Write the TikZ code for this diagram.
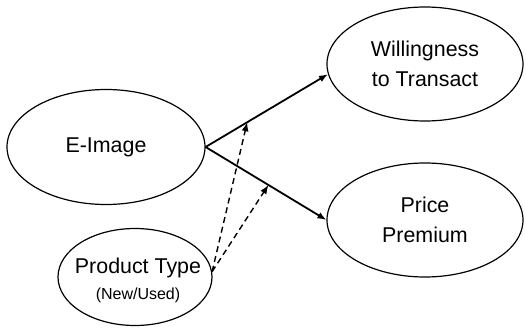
\documentclass[tikz,border=0pt]{standalone}
\usepackage{fontspec}
\setsansfont{Liberation Sans}
\usetikzlibrary{positioning, arrows.meta, calc, shapes.geometric}
\tikzset{
  construct/.style={
    draw, ellipse, line width=0.6pt,
    inner sep=0pt,
    font=\fontsize{10.7}{15}\selectfont\sffamily,
    align=center
  },
  path/.style={-{Latex[length=4.5pt, width=3.5pt]}, line width=0.9pt, black},
  moderate/.style={-{Latex[length=4.5pt, width=3.5pt]}, line width=0.7pt, black, dash pattern=on 3pt off 2pt}
}

\begin{document}
\begin{tikzpicture}[x=0.5pt, y=0.5pt]
\useasboundingbox (0,0) rectangle (526,328);

% Constructos
\node[construct, minimum width=99pt, minimum height=57.5pt] (eimage) at (106, 181) {E-Image};
\node[construct, minimum width=98pt, minimum height=57pt] (willing) at (425, 264) {Willingness\\to Transact};
\node[construct, minimum width=98pt, minimum height=57pt] (premium) at (425, 108) {Price\\Premium};
\node[construct, minimum width=77pt, minimum height=48.5pt] (ptype) at (135, 51) {};
\node[font=\fontsize{10.7}{13}\selectfont\sffamily, align=center] at (138, 48)
  {Product Type\\{\fontsize{8}{10}\selectfont (New/Used)}};

% Efectos directos
\draw[path] (eimage.east) -- (willing.186);
\draw[path] (eimage.east) -- (premium.west);

% Puntos de moderacion sobre las flechas
\coordinate (modw) at ($(eimage.east)!0.34!(willing.186)$);
\coordinate (modp) at ($(eimage.east)!0.52!(premium.west)$);

% Moderacion (dashed)
\draw[moderate] (ptype.4) -- (modw);
\draw[moderate] (ptype.4) -- (modp);

\end{tikzpicture}
\end{document}
